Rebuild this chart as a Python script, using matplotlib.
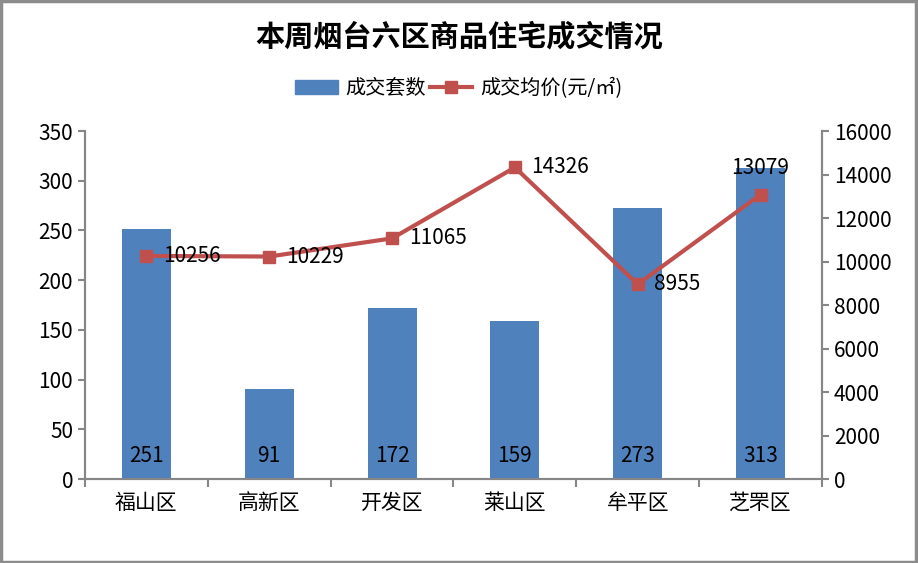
import matplotlib
matplotlib.use("Agg")
import matplotlib.pyplot as plt
from matplotlib.patches import Rectangle, Patch
from matplotlib.lines import Line2D
import numpy as np

plt.rcParams['font.family'] = ['Noto Sans CJK SC', 'DejaVu Sans']

categories = ['福山区', '高新区', '开发区', '莱山区', '牟平区', '芝罘区']
units = [251, 91, 172, 159, 273, 313]
prices = [10256, 10229, 11065, 14326, 8955, 13079]
title = '本周烟台六区商品住宅成交情况'
bar_name = '成交套数'
line_name = '成交均价(元/㎡)'

bar_color = '#4F81BD'
line_color = '#C0504D'
axis_gray = '#868686'

fig = plt.figure(figsize=(9.18, 5.63), dpi=100)
ax = fig.add_axes([0.0926, 0.1492, 0.8028, 0.6181])
ax2 = ax.twinx()

x = np.arange(len(categories))
ax.bar(x, units, width=0.4, color=bar_color, zorder=2)
ax.set_xlim(-0.5, len(categories) - 0.5)
ax.set_ylim(0, 350)
ax.set_yticks(np.arange(0, 351, 50))
ax2.set_ylim(0, 16000)
ax2.set_yticks(np.arange(0, 16001, 2000))

ax2.plot(x, prices, color=line_color, lw=3, marker='s', ms=8, zorder=3)

for xi, v in zip(x, units):
    ax.text(xi, 12, str(v), ha='center', va='bottom', fontsize=15, color='black')

for i, (xi, v) in enumerate(zip(x, prices)):
    if i == len(prices) - 1:
        ax2.annotate(str(v), (xi, v), xytext=(0, 19), textcoords='offset points',
                     ha='center', va='center', fontsize=15)
    else:
        ax2.annotate(str(v), (xi, v), xytext=(12, 0), textcoords='offset points',
                     ha='left', va='center', fontsize=15)

for a in (ax, ax2):
    a.spines['top'].set_visible(False)
    for s in ('left', 'right', 'bottom'):
        a.spines[s].set_color(axis_gray)
        a.spines[s].set_linewidth(1.5)
    a.tick_params(axis='y', colors=axis_gray, labelcolor='black', labelsize=15,
                  length=5, width=1.5)

ax.set_xticks(x)
ax.set_xticklabels(categories, fontsize=15)
ax.tick_params(axis='x', length=0, pad=9)
ax.set_xticks(np.arange(-0.5, len(categories), 1.0), minor=True)
ax.tick_params(axis='x', which='minor', length=6, width=1.5, colors=axis_gray)

fig.text(0.5, 0.935, title, ha='center', va='center', fontsize=21,
         fontweight='heavy')

handles = [Patch(color=bar_color, label=bar_name),
           Line2D([0], [0], color=line_color, lw=3, marker='s', ms=8, label=line_name)]
fig.legend(handles=handles, loc='center', bbox_to_anchor=(0.5, 0.843), ncol=2,
           frameon=False, fontsize=14.5, handlelength=2.1, handletextpad=0.4,
           columnspacing=0.2)

fig.patches.append(Rectangle((0.001, 0.002), 0.997, 0.996, transform=fig.transFigure,
                             fill=False, edgecolor='#8C8C8C', lw=2.5))

fig.savefig('out.png', dpi=100)
